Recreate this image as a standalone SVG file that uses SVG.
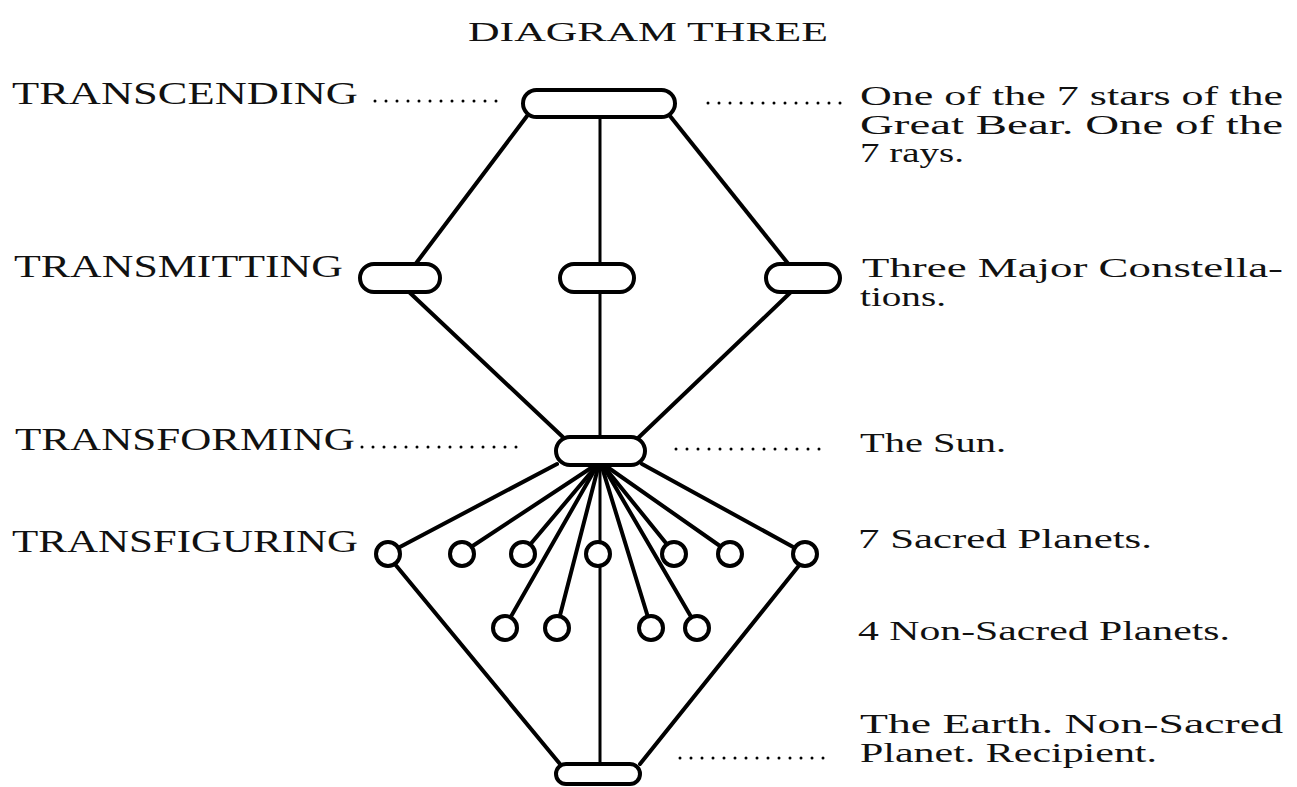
<svg xmlns="http://www.w3.org/2000/svg" width="1297" height="787" viewBox="0 0 1297 787">
<style>
text{font-family:"Liberation Serif","DejaVu Serif",serif;font-size:28px;fill:#111}
.l{font-size:31px}
.h{font-size:27px}
.c{stroke:#000;stroke-width:4;fill:none;stroke-linecap:round}
.t{stroke:#000;stroke-width:3;fill:none}
.n{fill:#fff;stroke:#000;stroke-width:4}
.d{stroke:#000;stroke-width:3;stroke-linecap:round;stroke-dasharray:0 11;fill:none}
</style>
<rect width="1297" height="787" fill="#fff"/>
<text class="h" x="468" y="41" textLength="360" lengthAdjust="spacingAndGlyphs">DIAGRAM THREE</text>
<g id="labels-left">
<text class="l" x="12" y="104" textLength="346" lengthAdjust="spacingAndGlyphs">TRANSCENDING</text>
<text class="l" x="14" y="277" textLength="329" lengthAdjust="spacingAndGlyphs">TRANSMITTING</text>
<text class="l" x="15" y="450" textLength="340" lengthAdjust="spacingAndGlyphs">TRANSFORMING</text>
<text class="l" x="12" y="552" textLength="346" lengthAdjust="spacingAndGlyphs">TRANSFIGURING</text>
</g>
<g id="labels-right">
<text x="860" y="105" textLength="423" lengthAdjust="spacingAndGlyphs">One of the 7 stars of the</text>
<text x="860" y="134" textLength="423" lengthAdjust="spacingAndGlyphs">Great Bear.  One of the</text>
<text x="860" y="162" textLength="104" lengthAdjust="spacingAndGlyphs">7 rays.</text>
<text x="862" y="277" textLength="421" lengthAdjust="spacingAndGlyphs">Three Major Constella-</text>
<text x="860" y="306" textLength="86" lengthAdjust="spacingAndGlyphs">tions.</text>
<text x="860" y="452" textLength="146" lengthAdjust="spacingAndGlyphs">The Sun.</text>
<text x="858" y="548" textLength="294" lengthAdjust="spacingAndGlyphs">7 Sacred Planets.</text>
<text x="858" y="640" textLength="372" lengthAdjust="spacingAndGlyphs">4 Non-Sacred Planets.</text>
<text x="860" y="733" textLength="423" lengthAdjust="spacingAndGlyphs">The Earth.  Non-Sacred</text>
<text x="860" y="762" textLength="297" lengthAdjust="spacingAndGlyphs">Planet.  Recipient.</text>
</g>
<g id="connectors">
<line class="d" x1="375" y1="101" x2="500" y2="101"/>
<line class="d" x1="708" y1="103" x2="850" y2="103"/>
<line class="d" x1="362" y1="447" x2="525" y2="447"/>
<line class="d" x1="676" y1="449" x2="825" y2="449"/>
<line class="d" x1="680" y1="758" x2="825" y2="758"/>
<line class="t" x1="600" y1="117" x2="600" y2="765"/>
<line class="c" x1="527" y1="116" x2="414" y2="266"/>
<line class="c" x1="670" y1="116" x2="790" y2="266"/>
<line class="c" x1="408" y1="291" x2="566" y2="440"/>
<line class="c" x1="792" y1="291" x2="636" y2="440"/>
<line class="c" x1="557" y1="464" x2="398" y2="548"/>
<line class="c" x1="642" y1="464" x2="795" y2="548"/>
<line class="c" x1="597" y1="464" x2="462" y2="553"/>
<line class="c" x1="598" y1="464" x2="523" y2="553"/>
<line class="c" x1="602" y1="464" x2="674" y2="553"/>
<line class="c" x1="603" y1="464" x2="730" y2="553"/>
<line class="c" x1="598" y1="464" x2="505" y2="627"/>
<line class="c" x1="599" y1="464" x2="557" y2="627"/>
<line class="c" x1="601" y1="464" x2="651" y2="627"/>
<line class="c" x1="602" y1="464" x2="697" y2="627"/>
<line class="c" x1="394" y1="563" x2="560" y2="764"/>
<line class="c" x1="801" y1="563" x2="640" y2="764"/>
</g>
<g id="node-transcending"><rect class="n" x="523" y="90" width="152" height="27" rx="13.5"/></g>
<g id="node-transmit-left"><rect class="n" x="360" y="264" width="80" height="28" rx="14"/></g>
<g id="node-transmit-mid"><rect class="n" x="560" y="264" width="74" height="28" rx="14"/></g>
<g id="node-transmit-right"><rect class="n" x="766" y="264" width="74" height="28" rx="14"/></g>
<g id="node-sun"><rect class="n" x="556" y="437" width="89" height="28" rx="14"/></g>
<g id="node-earth"><rect class="n" x="556" y="764" width="84" height="20" rx="10"/></g>
<g id="sacred-planets">
<circle class="n" cx="388" cy="554" r="12"/>
<circle class="n" cx="462" cy="554" r="12"/>
<circle class="n" cx="523" cy="554" r="12"/>
<circle class="n" cx="598" cy="554" r="12"/>
<circle class="n" cx="674" cy="554" r="12"/>
<circle class="n" cx="730" cy="554" r="12"/>
<circle class="n" cx="805" cy="554" r="12"/>
</g>
<g id="non-sacred-planets">
<circle class="n" cx="505" cy="628" r="12"/>
<circle class="n" cx="557" cy="628" r="12"/>
<circle class="n" cx="651" cy="628" r="12"/>
<circle class="n" cx="697" cy="628" r="12"/>
</g>
</svg>
